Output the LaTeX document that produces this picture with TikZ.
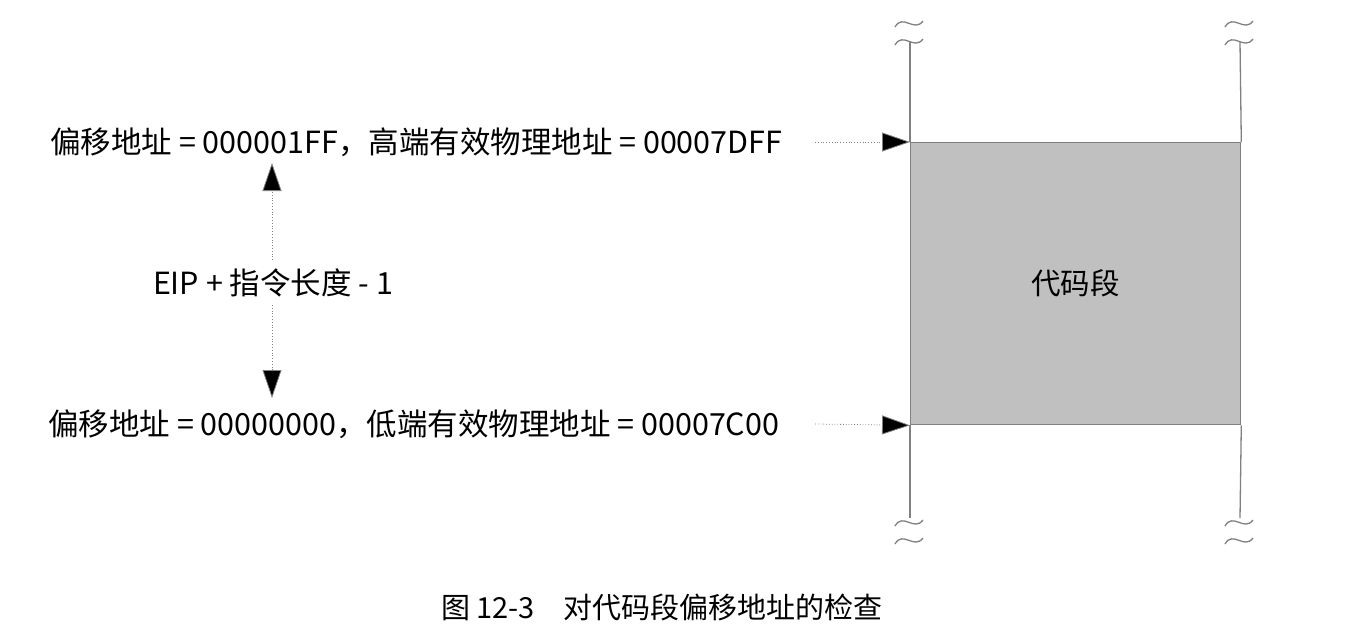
\documentclass[tikz,border=0pt]{standalone}
\usepackage{fontspec}
\setmainfont{Noto Sans CJK SC}
\newfontfamily\cjk{Noto Sans CJK SC}
\usetikzlibrary{arrows.meta}
\definecolor{linegray}{HTML}{808080}
\definecolor{segfill}{HTML}{C0C0C0}
\tikzset{
  lbl/.style={font=\cjk\fontsize{30.5}{36}\selectfont, inner sep=0pt, anchor=west},
  pointer/.style={draw=gray, line width=0.8pt, dotted, -{Triangle[length=28pt,width=19pt,fill=black]}},
  wall/.style={draw=linegray, line width=1.3pt},
  squig/.style={draw=linegray, line width=1.3pt},
}
\begin{document}
\begin{tikzpicture}[x=1pt,y=-1pt]
\useasboundingbox (0,0) rectangle (1349,630);
% code segment
\node[draw=linegray, fill=segfill, line width=1.3pt, minimum width=330pt, minimum height=282pt, inner sep=0pt, anchor=north west] (seg) at (910,142) {};
\node[font=\cjk\fontsize{29.5}{34}\selectfont] (segl) at (seg.center) {代码段};
% walls
\coordinate (lt) at (910,42);
\coordinate (lb) at (910,518);
\coordinate (rt) at (1240,42);
\coordinate (rb) at (1240,518);
\draw[wall] (lt) -- (seg.north west) (seg.south west) -- (lb);
\draw[wall] (rt) -- (seg.north east) (seg.south east) -- (rb);
% squiggles
\foreach \x in {895,1225} {
  \foreach \y in {27,45,526,544} {
    \draw[squig] (\x,\y) .. controls (\x+8,\y-14) and (\x+19,\y+6) .. (\x+28,\y-6);
  }
}
% labels
\node[lbl] (top) at (50,142) {偏移地址 = 000001FF，高端有效物理地址 = 00007DFF};
\node[lbl] (bot) at (48,424) {偏移地址 = 00000000，低端有效物理地址 = 00007C00};
\node[lbl, anchor=center] (len) at (273,283) {EIP + 指令长度 - 1};
% pointers
\coordinate (pt) at (815,142);
\coordinate (pb) at (815,424);
\draw[pointer] (pt) -- (seg.north west);
\draw[pointer] (pb) -- (seg.south west);
\coordinate (up) at (272,163);
\coordinate (dn) at (272,398);
\draw[pointer] (272,260) -- (up);
\draw[pointer] (272,305) -- (dn);
% caption
\node[font=\cjk\fontsize{29}{34}\selectfont] (cap) at (662,607) {图 12-3\quad 对代码段偏移地址的检查};
\end{tikzpicture}
\end{document}
